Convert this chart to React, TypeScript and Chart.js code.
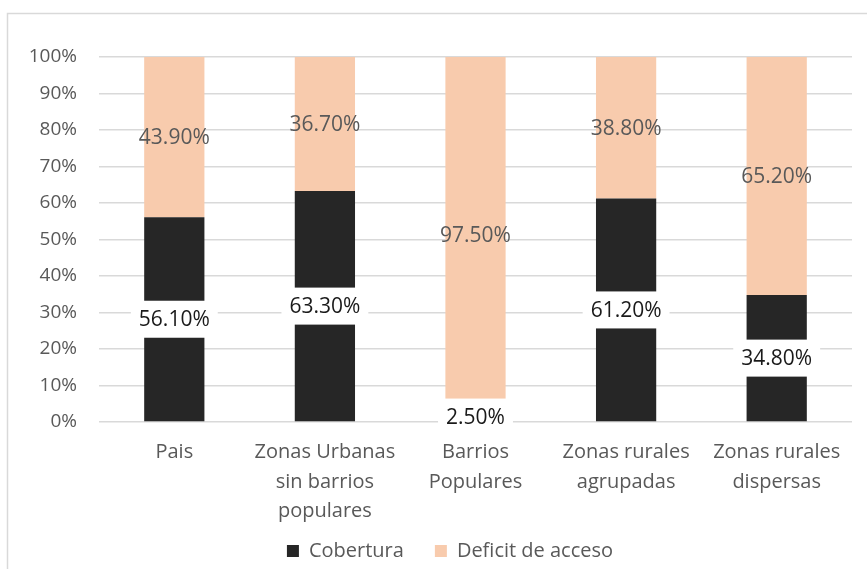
import React, { useEffect, useRef } from "react";
import { Chart, registerables } from "chart.js";

Chart.register(...registerables);

const categories: (string | string[])[] = [
  "Pais",
  ["Zonas Urbanas", "sin barrios", "populares"],
  ["Barrios", "Populares"],
  ["Zonas rurales", "agrupadas"],
  ["Zonas rurales", "dispersas"],
];
const cobertura = [56.1, 63.3, 2.5, 61.2, 34.8];
const deficit = [43.9, 36.7, 97.5, 38.8, 65.2];
const yTicks = [0, 10, 20, 30, 40, 50, 60, 70, 80, 90, 100];

const FONT = "'Open Sans', sans-serif";

const framePlugin = {
  id: "frame",
  beforeDraw(chart: any) {
    const ctx = chart.ctx;
    ctx.save();
    ctx.strokeStyle = "#d9d9d9";
    ctx.lineWidth = 1.5;
    ctx.strokeRect(7.5, 13.5, chart.width + 20, chart.height + 20);
    ctx.restore();
  },
};

// keep the legend compact in the layout, then place it like the reference
const legendFitPlugin = {
  id: "legendFit",
  afterInit(chart: any) {
    const lg = chart.legend;
    if (!lg) return;
    const orig = lg.fit.bind(lg);
    lg.fit = function () {
      orig();
      this.height = 37;
    };
  },
  beforeDraw(chart: any) {
    const lg = chart.legend;
    if (!lg) return;
    lg.top = 510;
    lg.bottom = 569;
    lg.left = 28;
    lg.right = 872;
  },
};

const labelPlugin = {
  id: "barLabels",
  afterDatasetsDraw(chart: any) {
    const ctx = chart.ctx;
    ctx.save();
    ctx.font = `21px ${FONT}`;
    ctx.textAlign = "center";
    ctx.textBaseline = "middle";
    chart.data.datasets.forEach((ds: any, di: number) => {
      const meta = chart.getDatasetMeta(di);
      meta.data.forEach((bar: any, i: number) => {
        const v = ds.data[i];
        const txt = v.toFixed(2) + "%";
        const cx = bar.x;
        const cy = (bar.y + bar.base) / 2;
        if (di === 0) {
          const w = ctx.measureText(txt).width + 16;
          const h = 37;
          ctx.fillStyle = "#ffffff";
          ctx.fillRect(cx - w / 2, cy - h / 2, w, h);
          ctx.fillStyle = "#1a1a1a";
        } else {
          ctx.fillStyle = "#595959";
        }
        ctx.fillText(txt, cx, cy + 1);
      });
    });
    ctx.restore();
  },
};

export default function App() {
  const ref = useRef<HTMLCanvasElement>(null);
  useEffect(() => {
    if (!ref.current) return;
    const chart = new Chart(ref.current, {
      type: "bar",
      data: {
        labels: categories,
        datasets: [
          {
            label: "Cobertura",
            data: cobertura,
            backgroundColor: "#262626",
            barPercentage: 0.4,
            categoryPercentage: 1,
          },
          {
            label: "Deficit de acceso",
            data: deficit,
            backgroundColor: "#F8CBAD",
            barPercentage: 0.4,
            categoryPercentage: 1,
          },
        ],
      },
      options: {
        responsive: false,
        animation: false,
        layout: { padding: { left: 8, right: 15, top: 57, bottom: 0 } },
        plugins: {
          legend: {
            position: "bottom",
            labels: {
              boxWidth: 12,
              boxHeight: 12,
              color: "#595959",
              font: { family: FONT, size: 20 },
              padding: 31,
            },
          },
          tooltip: { enabled: false },
        },
        scales: {
          x: {
            stacked: true,
            grid: { display: false, drawTicks: false },
            border: { display: false },
            ticks: {
              color: "#595959",
              font: { family: FONT, size: 20, lineHeight: 1.475 },
              padding: 16,
              maxRotation: 0,
              autoSkip: false,
            },
            afterFit(scale: any) {
              scale.height = 110;
            },
          },
          y: {
            stacked: true,
            min: 0,
            max: 100,
            afterBuildTicks(scale: any) {
              scale.ticks = yTicks.map((v) => ({ value: v }));
            },
            grid: { color: "#d9d9d9", lineWidth: 1.5, drawTicks: false },
            border: { display: false },
            ticks: {
              color: "#595959",
              font: { family: FONT, size: 19 },
              padding: 22,
              callback: (v: any) => v + "%",
            },
            afterFit(scale: any) {
              scale.width = 91;
            },
          },
        },
      },
      plugins: [framePlugin, legendFitPlugin, labelPlugin],
    });
    return () => chart.destroy();
  }, []);
  return (
    <div style={{ position: "absolute", left: 0, top: 0, width: 867, height: 569, background: "#fff" }}>
      <canvas ref={ref} width={867} height={569} style={{ display: "block" }} />
    </div>
  );
}
